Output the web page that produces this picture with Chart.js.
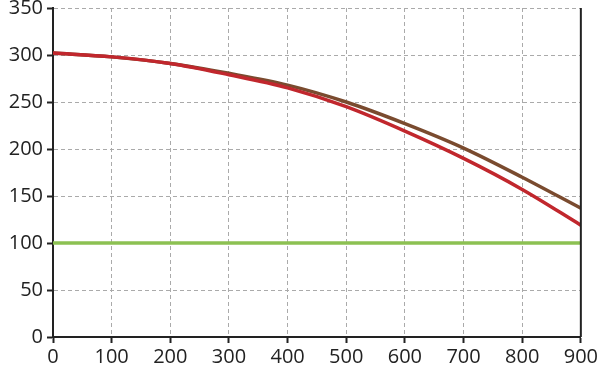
<!DOCTYPE html>
<html>
<head>
<meta charset="utf-8">
<script src="https://cdn.jsdelivr.net/npm/chart.js@4/dist/chart.umd.min.js"></script>
<style>
  html, body { margin: 0; padding: 0; background: #fff; }
  #wrap { width: 600px; height: 376px; }
</style>
</head>
<body>
<div id="wrap"><canvas id="myChart" width="600" height="376"></canvas></div>
<script>
// values
const xValues = [0, 100, 200, 300, 400, 500, 600, 700, 800, 900];
const redValues = [302, 298, 291, 279, 265, 245, 219, 190, 157, 119];
const brownValues = [302, 298, 291, 280.5, 268, 250, 227, 201, 170, 137];
const greenX = [0, 900];
const greenValues = [100, 100];

const toPoints = (xs, ys) => xs.map((x, i) => ({ x: x, y: ys[i] }));

// solid border on the right side of the plot
const rightBorder = {
  id: "rightBorder",
  afterDraw(chart) {
    const { ctx, chartArea } = chart;
    ctx.save();
    ctx.strokeStyle = "#222";
    ctx.lineWidth = 2;
    ctx.beginPath();
    ctx.moveTo(chartArea.right, chartArea.top);
    ctx.lineTo(chartArea.right, chartArea.bottom);
    ctx.stroke();
    ctx.restore();
  },
};

const ctx = document.getElementById("myChart").getContext("2d");
new Chart(ctx, {
  type: "line",
  data: {
    // first dataset ends up drawn on top
    datasets: [
      {
        label: "red",
        data: toPoints(xValues, redValues),
        borderColor: "#c1272d",
        borderWidth: 3.5,
        pointRadius: 0,
        cubicInterpolationMode: "monotone",
      },
      {
        label: "brown",
        data: toPoints(xValues, brownValues),
        borderColor: "#7a4b2f",
        borderWidth: 3.5,
        pointRadius: 0,
        cubicInterpolationMode: "monotone",
      },
      {
        label: "green",
        data: toPoints(greenX, greenValues),
        borderColor: "#8cc152",
        borderWidth: 3.5,
        pointRadius: 0,
      },
    ],
  },
  plugins: [rightBorder],
  options: {
    responsive: false,
    animation: false,
    layout: { padding: { top: 0, right: 19, left: 0, bottom: 0 } },
    plugins: {
      legend: { display: false },
      tooltip: { enabled: false },
    },
    scales: {
      x: {
        type: "linear",
        min: 0,
        max: 900,
        ticks: {
          stepSize: 100,
          color: "#222",
          font: { family: "Open Sans", size: 20 },
          padding: 2,
          maxRotation: 0,
        },
        grid: {
          color: "#aaa",
          lineWidth: 1,
          tickLength: 6,
          tickColor: "#222",
          tickWidth: 2,
          tickBorderDash: [],
        },
        border: { color: "#222", width: 2, dash: [4, 3] },
        afterFit(scale) {
          scale.height = 39;
        },
      },
      y: {
        min: 0,
        max: 350,
        ticks: {
          stepSize: 50,
          color: "#222",
          font: { family: "Open Sans", size: 20, lineHeight: 0.4 },
          padding: 4,
        },
        grid: {
          color: "#aaa",
          lineWidth: 1,
          tickLength: 6,
          tickColor: "#222",
          tickWidth: 2,
          tickBorderDash: [],
        },
        border: { color: "#222", width: 2, dash: [4, 3] },
        afterFit(scale) {
          scale.width = 53;
        },
      },
    },
  },
});
</script>
</body>
</html>
